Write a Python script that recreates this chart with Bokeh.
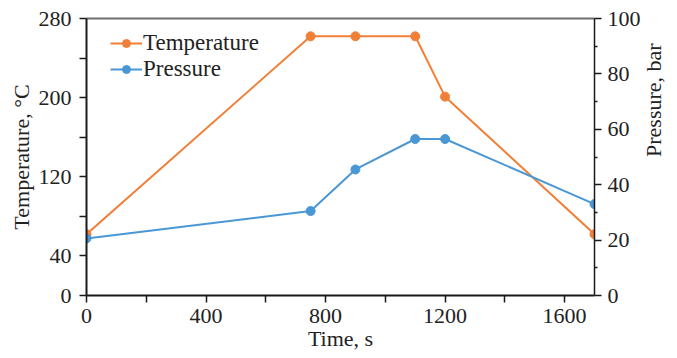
import math
from bokeh.plotting import figure
from bokeh.models import Range1d, LinearAxis, FixedTicker, Legend, LegendItem
from bokeh.embed import file_html
from bokeh.resources import INLINE

# Data
time_s = [0, 750, 900, 1100, 1200, 1700]
temperature_c = [62, 262, 262, 262, 201, 62]
pressure_bar = [20.6, 30.5, 45.5, 56.5, 56.5, 33.0]

x_ticks = [0, 400, 800, 1200, 1600]
x_minor = [200, 600, 1000, 1400]
t_ticks = [0, 40, 120, 200, 280]
t_minor = [80, 160, 240]
p_ticks = [0, 20, 40, 60, 80, 100]
p_minor = [10, 30, 50, 70, 90]

ORANGE = "#F27F37"
BLUE = "#4A97D6"
FONT = "Liberation Serif"
FS = "22px"
TXT = "#222222"

p = figure(frame_width=508, frame_height=277, output_backend="svg",
           toolbar_location=None, x_range=Range1d(0, 1700), y_range=Range1d(0, 280),
           min_border_left=86, min_border_right=75, min_border_top=18, min_border_bottom=50)
p.extra_y_ranges = {"p": Range1d(0, 100)}
p.grid.visible = False
p.outline_line_color = None
p.background_fill_color = "white"
p.border_fill_color = "white"

def style(ax, tick_out=7, minor_out=7, lw=2, color="#1a1a1a"):
    ax.axis_line_width = lw
    ax.axis_line_color = color
    ax.major_tick_line_width = 1.5
    ax.minor_tick_line_width = 1.5
    ax.major_tick_line_color = color
    ax.minor_tick_line_color = color
    ax.major_tick_in = 0
    ax.major_tick_out = tick_out
    ax.minor_tick_in = 0
    ax.minor_tick_out = minor_out
    ax.major_label_text_font = FONT
    ax.major_label_text_font_size = FS
    ax.major_label_text_color = TXT
    ax.axis_label_text_font = FONT
    ax.axis_label_text_font_size = FS
    ax.axis_label_text_font_style = "normal"
    ax.axis_label_text_color = TXT

xa = p.xaxis[0]
xa.ticker = FixedTicker(ticks=x_ticks, minor_ticks=x_minor)
xa.axis_label = "Time, s"
style(xa)
xa.major_label_standoff = 6
xa.axis_label_standoff = 0

ya = p.yaxis[0]
ya.ticker = FixedTicker(ticks=t_ticks, minor_ticks=t_minor)
ya.axis_label = "Temperature, °C"
style(ya)
ya.major_label_standoff = 8
ya.axis_label_standoff = 2

ra = LinearAxis(y_range_name="p", axis_label="Pressure, bar",
                ticker=FixedTicker(ticks=p_ticks, minor_ticks=p_minor))
style(ra, tick_out=7, minor_out=3, lw=1.5)
ra.major_label_standoff = 6
ra.axis_label_standoff = 10
ra.axis_label_orientation = math.pi / 2
p.add_layout(ra, "right")

top = LinearAxis(ticker=FixedTicker(ticks=[]), major_label_text_font_size="0px",
                 axis_line_color="#6e6e6e", axis_line_width=2,
                 major_tick_line_color=None, minor_tick_line_color=None)
p.add_layout(top, "above")

lt = p.line(time_s, temperature_c, line_color=ORANGE, line_width=2)
st = p.scatter(time_s, temperature_c, size=9, fill_color=ORANGE, line_color=ORANGE)
lp = p.line(time_s, pressure_bar, line_color=BLUE, line_width=2, y_range_name="p")
sp = p.scatter(time_s, pressure_bar, size=9, fill_color=BLUE, line_color=BLUE, y_range_name="p")

legend = Legend(items=[LegendItem(label="Temperature", renderers=[lt, st]),
                       LegendItem(label="Pressure", renderers=[lp, sp])],
                location=(24, 213), border_line_color=None, background_fill_alpha=0,
                label_text_font=FONT, label_text_font_size="23px", label_text_color=TXT,
                glyph_width=32, glyph_height=20, label_standoff=1, spacing=0, margin=0, padding=0,
                label_text_line_height=0.9, label_height=20)
p.add_layout(legend)

open("out.html", "w").write(file_html(p, INLINE))
